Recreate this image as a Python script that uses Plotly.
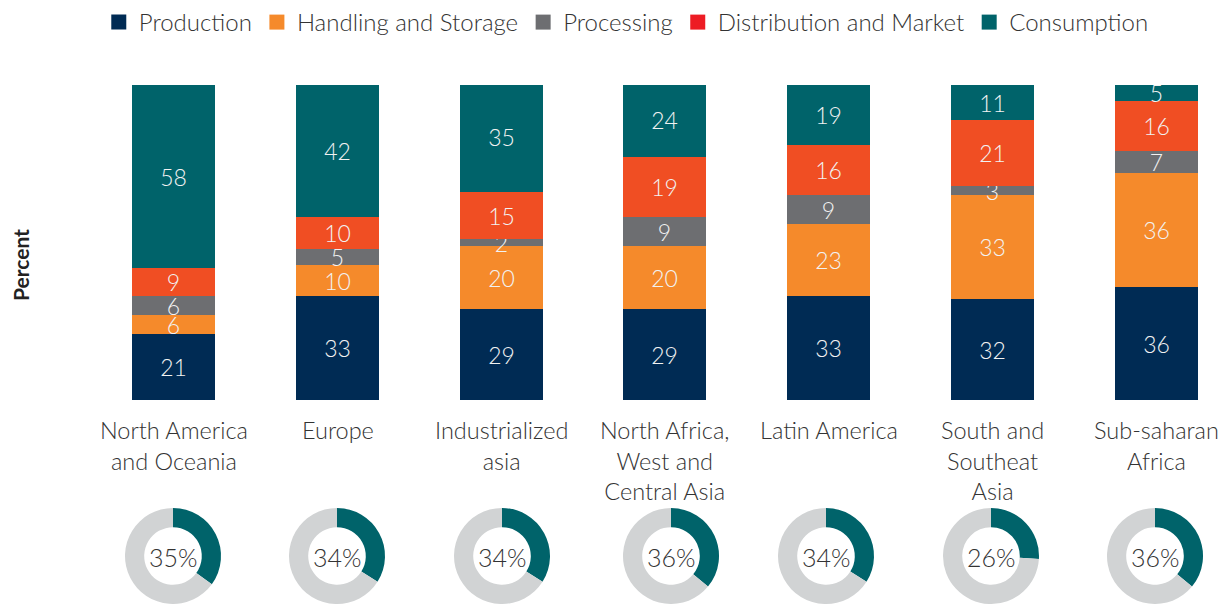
import plotly.graph_objects as go

regions = ["North America<br>and Oceania", "Europe", "Industrialized<br>asia",
           "North Africa,<br>West and<br>Central Asia", "Latin America",
           "South and<br>Southeat<br>Asia", "Sub-saharan<br>Africa"]
production = [21, 33, 29, 29, 33, 32, 36]
handling = [6, 10, 20, 20, 23, 33, 36]
processing = [6, 5, 2, 9, 9, 3, 7]
distribution = [9, 10, 15, 19, 16, 21, 16]
consumption = [58, 42, 35, 24, 19, 11, 5]
share_pct = [35, 34, 34, 36, 34, 26, 36]

series = [
    ("Production", production, "#002B54", "#002B54"),
    ("Handling and Storage", handling, "#F58A2B", "#F58A2B"),
    ("Processing", processing, "#6D6E71", "#6D6E71"),
    ("Distribution and Market", distribution, "#F04E23", "#ED1C24"),
    ("Consumption", consumption, "#00636A", "#00636A"),
]

FONT = "Lato"
TXT = "#333333"
W, H = 1228, 604

fig = go.Figure()
xs = list(range(len(regions)))
for name, vals, col, lcol in series:
    fig.add_trace(go.Bar(
        x=xs, y=vals, name=name, marker=dict(color=col, line=dict(width=0)),
        width=0.507, text=[str(v) for v in vals], textposition="inside",
        insidetextanchor="middle", textangle=0,
        textfont=dict(family=FONT, size=23, color="#F2F2F2", weight=300),
        showlegend=False, hoverinfo="skip"))
for name, vals, col, lcol in series:
    fig.add_trace(go.Scatter(
        x=[None], y=[None], mode="markers", name=name,
        marker=dict(symbol="square", size=15, color=lcol), showlegend=True))

# donuts
cxs = [173, 337, 502, 671, 826, 991, 1155]
r = 48
for i, p in enumerate(share_pct):
    cx = cxs[i]
    fig.add_trace(go.Pie(
        values=[p, 100 - p], marker=dict(colors=["#00636A", "#D1D3D4"], line=dict(width=0)),
        hole=0.6, sort=False, direction="clockwise", rotation=0,
        textinfo="none", hoverinfo="skip", showlegend=False,
        domain=dict(x=[(cx - r) / W, (cx + r) / W], y=[0, 96 / H])))
    fig.add_annotation(x=cx / W, y=(H - 557) / H, xref="paper", yref="paper",
                       xanchor="center", yanchor="middle",
                       text=f"{p}%", showarrow=False,
                       font=dict(family=FONT, size=25, color=TXT, weight=300))

for i, lab in enumerate(regions):
    fig.add_annotation(x=i, y=(H - 414) / H, xref="x", yref="paper",
                       xanchor="center", yanchor="top",
                       text=lab, showarrow=False, align="center",
                       font=dict(family=FONT, size=23.5, color=TXT, weight=300))

fig.add_annotation(x=20 / W, y=(H - 265) / H, xref="paper", yref="paper",
                   xanchor="center", yanchor="middle",
                   text="<b>Percent</b>", textangle=-90, showarrow=False,
                   font=dict(family=FONT, size=21, color="#222222"))

u = 163.7
r0 = -173.8 / u
fig.update_layout(
    width=W, height=H, barmode="stack", bargap=0,
    margin=dict(l=0, r=0, t=0, b=0),
    paper_bgcolor="white", plot_bgcolor="white",
    uniformtext=dict(minsize=23, mode="show"),
    xaxis=dict(domain=[0, 1], range=[r0, r0 + W / u], showticklabels=False,
               showgrid=False, zeroline=False, showline=False, ticks=""),
    yaxis=dict(domain=[(H - 400) / H, (H - 85) / H], range=[0, 100], showticklabels=False,
               showgrid=False, zeroline=False, showline=False, ticks=""),
    legend=dict(orientation="h", x=0.51, xanchor="center", y=1.0, yanchor="top",
                traceorder="normal",
                font=dict(family=FONT, size=24, color=TXT, weight=300),
                itemwidth=30, tracegroupgap=0, bgcolor="rgba(0,0,0,0)"),
    font=dict(family=FONT, color=TXT),
)

fig.write_html("out.html", config={"displayModeBar": False})

with open("out.html", "r", encoding="utf-8") as f:
    html = f.read()
html = html.replace("<body>", '<body style="margin:0;padding:0;overflow:hidden">', 1)
html = html.replace("<head>", "<head><style>html,body{margin:0;padding:0;}</style>", 1)
with open("out.html", "w", encoding="utf-8") as f:
    f.write(html)
